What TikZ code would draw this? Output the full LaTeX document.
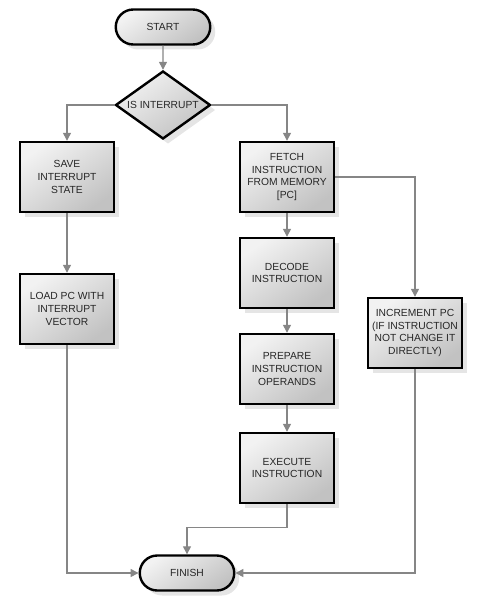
\documentclass[tikz,border=0pt]{standalone}
\usepackage{fontspec}
\setmainfont{Liberation Sans}
\usetikzlibrary{shapes.geometric,shapes.misc,shadows,arrows.meta}
\begin{document}
\begin{tikzpicture}[x=1pt,y=-1pt,
  base/.style={draw=black, line width=2.4pt, top color=gray!10, bottom color=gray!48, shading angle=35,
    drop shadow={shadow xshift=5pt, shadow yshift=-5pt, fill=gray!20, opacity=1},
    font=\fontsize{10.3}{12.7}\selectfont, align=center, text=black!85, inner sep=0pt},
  procbox/.style={base, rectangle, minimum width=94.5pt, minimum height=70pt},
  term/.style={base, rounded rectangle, minimum width=94.5pt, minimum height=35pt},
  decision/.style={base, diamond, aspect=1.4, minimum width=95pt, minimum height=68pt},
  conn/.style={draw=gray!95, line width=1.3pt, -{Triangle[length=8pt,width=8pt]}}
]
\useasboundingbox (0,0) rectangle (482,604);
\node[term] (start) at (163,27) {START};
\node[decision] (dec) at (163,105) {IS INTERRUPT};
\node[procbox] (save) at (67,177) {SAVE\\INTERRUPT\\STATE};
\node[procbox] (load) at (67,309) {LOAD PC WITH\\INTERRUPT\\VECTOR};
\node[procbox] (fetch) at (287,177) {FETCH\\INSTRUCTION\\FROM MEMORY\\{[PC]}};
\node[procbox] (decode) at (287,273) {DECODE\\INSTRUCTION};
\node[procbox] (prep) at (287,369) {PREPARE\\INSTRUCTION\\OPERANDS};
\node[procbox] (exec) at (287,468) {EXECUTE\\INSTRUCTION};
\node[procbox] (incr) at (415,333) {INCREMENT PC\\(IF INSTRUCTION\\NOT CHANGE IT\\DIRECTLY)};
\node[term] (finish) at (187,573) {FINISH};

\draw[conn] (start) -- (dec);
\draw[conn] (dec.west) -| (save.north);
\draw[conn] (dec.east) -| (fetch.north);
\draw[conn] (save) -- (load);
\draw[conn] (fetch) -- (decode);
\draw[conn] (decode) -- (prep);
\draw[conn] (prep) -- (exec);
\draw[conn] (fetch.east) -| (incr.north);
\draw[conn] (exec.south) -- ++(0,23) -| (finish.north);
\draw[conn] (load.south) |- (finish.west);
\draw[conn] (incr.south) |- (finish.east);
\end{tikzpicture}
\end{document}
